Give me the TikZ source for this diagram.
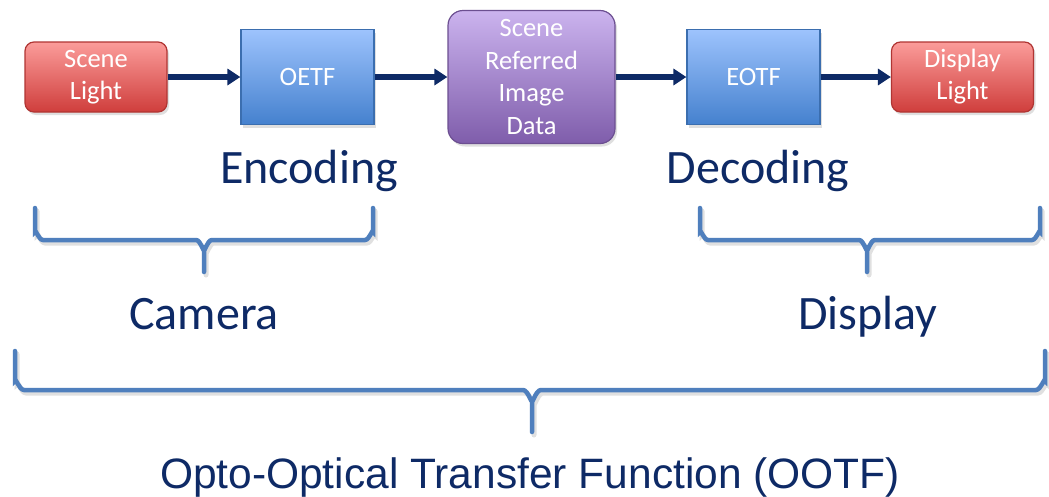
\documentclass[tikz,border=0pt]{standalone}
\usepackage{fontspec}
\setmainfont{Carlito}
\newfontfamily\arialf{Liberation Sans}
\usetikzlibrary{shadows,arrows.meta}
\definecolor{navy}{HTML}{0E2A66}
\definecolor{bracec}{HTML}{4F7FBD}
\tikzset{
  boxbase/.style={draw, line width=1.2pt, text=white, align=center, inner sep=0pt,
    font=\fontsize{26.5}{32.5}\selectfont,
    drop shadow={opacity=0.25, shadow xshift=2pt, shadow yshift=-3pt}},
  redbox/.style={boxbase, rounded corners=9pt, minimum width=142pt, minimum height=70pt},
  bluebox/.style={boxbase, minimum width=133pt, minimum height=95pt},
  purplebox/.style={boxbase, rounded corners=15pt, minimum width=167pt, minimum height=133pt},
  flow/.style={draw=navy, line width=5.5pt, -{Triangle[length=13pt,width=16pt]}},
  bigtext/.style={text=navy, font=\fontsize{48}{52}\selectfont, anchor=base},
  bracepath/.style={draw=bracec, line width=4.5pt, line cap=round},
  braceshadow/.style={draw=black, opacity=0.12, line width=5pt, line cap=round, shift={(2pt,-3pt)}}
}
\newcommand{\twolines}[2]{\raisebox{-3pt}{\begin{tabular}{@{}c@{}}#1\\#2\end{tabular}}}
\begin{document}
\begin{tikzpicture}[x=1pt,y=-1pt]
\useasboundingbox[fill=white] (0,0) rectangle (1049,496);
\definecolor{redtop}{HTML}{FB9C9A}\definecolor{redbot}{HTML}{CF3E3C}
\definecolor{bluetop}{HTML}{9DC3FD}\definecolor{bluebot}{HTML}{4581CE}
\definecolor{purtop}{HTML}{CBB3EE}\definecolor{purbot}{HTML}{7F5DAB}
\node[redbox, top color=redtop, bottom color=redbot, draw=redbot!85!black] (sl) at (96,77) {\twolines{Scene}{Light}};
\node[bluebox, top color=bluetop, bottom color=bluebot, draw=bluebot!85!black] (oetf) at (307.5,77) {OETF};
\node[purplebox, top color=purtop, bottom color=purbot, draw=purbot!85!black] (srid) at (531.5,77) {Scene\\Referred\\Image\\Data};
\node[bluebox, top color=bluetop, bottom color=bluebot, draw=bluebot!85!black] (eotf) at (753.5,77) {EOTF};
\node[redbox, top color=redtop, bottom color=redbot, draw=redbot!85!black] (dl) at (962.5,77) {\twolines{Display}{Light}};
\draw[flow] (sl) -- (oetf);
\draw[flow] (oetf) -- (srid);
\draw[flow] (srid) -- (eotf);
\draw[flow] (eotf) -- (dl);
\node[bigtext] (enc) at (309,183) {Encoding};
\node[bigtext] (dec) at (758,183) {Decoding};
% braces: shadow first, then stroke
\foreach \sty in {braceshadow,bracepath}{
\draw[\sty] (35,208) -- (35,232) to[out=90,in=180] (43,240) -- (196,240) to[out=0,in=-90] (204,249) -- (204,272)
  (204,249) to[out=-90,in=180] (212,240) -- (365,240) to[out=0,in=90] (373,232) -- (373,208);
\draw[\sty] (700,208) -- (700,232) to[out=90,in=180] (708,240) -- (859,240) to[out=0,in=-90] (867,249) -- (867,272)
  (867,249) to[out=-90,in=180] (875,240) -- (1032,240) to[out=0,in=90] (1040,232) -- (1040,208);
\draw[\sty] (15,351) -- (15,381) to[out=90,in=180] (24,390) -- (523,390) to[out=0,in=-90] (532,400) -- (532,432)
  (532,400) to[out=-90,in=180] (541,390) -- (1036,390) to[out=0,in=90] (1045,381) -- (1045,351);
}
\node[bigtext] (cam) at (204,329) {Camera};
\node[bigtext] (disp) at (868,329) {Display};
\node[text=navy, font=\arialf\fontsize{42.5}{46}\selectfont, anchor=base] (ootf) at (530,488) {Opto-Optical Transfer Function (OOTF)};
\end{tikzpicture}
\end{document}
